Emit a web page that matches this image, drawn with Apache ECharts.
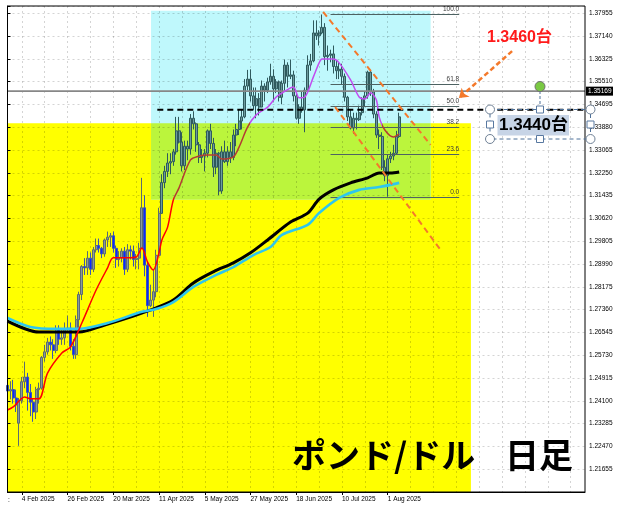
<!DOCTYPE html>
<html>
<head>
<meta charset="utf-8">
<title>ポンド/ドル 日足</title>
<script src="https://cdn.jsdelivr.net/npm/echarts@6/dist/echarts.min.js"></script>
<style>
  html, body { margin: 0; padding: 0; background: #fff; }
  #main { width: 632px; height: 509px; }
</style>
</head>
<body>
<div id="main"></div>
<script>
// trading days on the chart (GBP/USD daily, 2025)
const tradingDays = [
  ['Jan', [28, 29, 30, 31]],
  ['Feb', [3, 4, 5, 6, 7, 10, 11, 12, 13, 14, 17, 18, 19, 20, 21, 24, 25, 26, 27, 28]],
  ['Mar', [3, 4, 5, 6, 7, 10, 11, 12, 13, 14, 17, 18, 19, 20, 21, 24, 25, 26, 27, 28, 31]],
  ['Apr', [1, 2, 3, 4, 7, 8, 9, 10, 11, 14, 15, 16, 17, 18, 21, 22, 23, 24, 25, 28, 29, 30]],
  ['May', [1, 2, 5, 6, 7, 8, 9, 12, 13, 14, 15, 16, 19, 20, 21, 22, 23, 26, 27, 28, 29, 30]],
  ['Jun', [2, 3, 4, 5, 6, 9, 10, 11, 12, 13, 16, 17, 18, 19, 20, 23, 24, 25, 26, 27, 30]],
  ['Jul', [1, 2, 3, 4, 7, 8, 9, 10, 11, 14, 15, 16, 17, 18, 21, 22, 23, 24, 25, 28, 29, 30, 31]],
  ['Aug', [1, 4, 5, 6, 7]]
];
const emptySlots = 65; // blank bars right of the last candle

const tickLabels = ['4 Feb 2025', '26 Feb 2025', '20 Mar 2025', '11 Apr 2025', '5 May 2025',
  '27 May 2025', '18 Jun 2025', '10 Jul 2025', '1 Aug 2025'];
const gridStep = 8; // vertical grid every 8 bars

// price axis: labels 1.21655 ... 1.37955 every 0.00815
const yMin = 1.2084;
const yStep = 0.00815;
const yMax = 1.38213;

// [open, close, low, high]
const ohlc = [
  [1.2465, 1.2445, 1.2405, 1.2480], [1.2445, 1.2450, 1.2415, 1.2480], [1.2450, 1.2420, 1.2400, 1.2485], [1.2420, 1.2395, 1.2370, 1.2450],
  [1.2330, 1.2410, 1.2249, 1.2420], [1.2410, 1.2478, 1.2400, 1.2495], [1.2478, 1.2495, 1.2455, 1.2550], [1.2495, 1.2440, 1.2375, 1.2510],
  [1.2440, 1.2405, 1.2355, 1.2470], [1.2405, 1.2370, 1.2335, 1.2420], [1.2370, 1.2450, 1.2345, 1.2460], [1.2450, 1.2455, 1.2400, 1.2475],
  [1.2455, 1.2565, 1.2450, 1.2570], [1.2565, 1.2585, 1.2550, 1.2610], [1.2585, 1.2620, 1.2575, 1.2635], [1.2620, 1.2610, 1.2590, 1.2640],
  [1.2610, 1.2590, 1.2560, 1.2630], [1.2590, 1.2665, 1.2580, 1.2680], [1.2665, 1.2630, 1.2610, 1.2680], [1.2630, 1.2635, 1.2610, 1.2665],
  [1.2635, 1.2665, 1.2610, 1.2690], [1.2665, 1.2670, 1.2655, 1.2715], [1.2670, 1.2605, 1.2590, 1.2690], [1.2605, 1.2575, 1.2560, 1.2630],
  [1.2575, 1.2700, 1.2560, 1.2715], [1.2700, 1.2790, 1.2670, 1.2800], [1.2790, 1.2890, 1.2770, 1.2895], [1.2890, 1.2885, 1.2860, 1.2920],
  [1.2885, 1.2920, 1.2860, 1.2945], [1.2920, 1.2880, 1.2860, 1.2940], [1.2880, 1.2950, 1.2870, 1.2960], [1.2950, 1.2965, 1.2940, 1.2990],
  [1.2965, 1.2955, 1.2940, 1.2990], [1.2955, 1.2935, 1.2920, 1.2960], [1.2935, 1.2985, 1.2925, 1.2990], [1.2985, 1.2995, 1.2960, 1.3015],
  [1.2995, 1.3000, 1.2960, 1.3010], [1.3000, 1.2955, 1.2940, 1.3015], [1.2955, 1.2915, 1.2885, 1.2965], [1.2915, 1.2920, 1.2890, 1.2945],
  [1.2920, 1.2945, 1.2905, 1.2955], [1.2945, 1.2880, 1.2860, 1.2960], [1.2880, 1.2950, 1.2870, 1.2970], [1.2950, 1.2945, 1.2915, 1.2965],
  [1.2945, 1.2915, 1.2890, 1.2965], [1.2915, 1.2920, 1.2880, 1.2935], [1.2920, 1.2955, 1.2880, 1.2975], [1.2955, 1.3100, 1.2955, 1.3207],
  [1.3100, 1.2895, 1.2855, 1.3145], [1.2895, 1.2750, 1.2710, 1.2905], [1.2750, 1.2770, 1.2745, 1.2825], [1.2770, 1.2800, 1.2710, 1.2880],
  [1.2800, 1.2930, 1.2780, 1.2950], [1.2930, 1.3080, 1.2930, 1.3100], [1.3080, 1.3190, 1.3080, 1.3220], [1.3190, 1.3230, 1.3170, 1.3250],
  [1.3230, 1.3260, 1.3210, 1.3295], [1.3260, 1.3265, 1.3220, 1.3295], [1.3265, 1.3300, 1.3250, 1.3310], [1.3300, 1.3375, 1.3290, 1.3425],
  [1.3375, 1.3335, 1.3330, 1.3425], [1.3335, 1.3250, 1.3230, 1.3370], [1.3250, 1.3320, 1.3235, 1.3340], [1.3320, 1.3310, 1.3270, 1.3340],
  [1.3310, 1.3420, 1.3290, 1.3435], [1.3420, 1.3400, 1.3380, 1.3445], [1.3400, 1.3325, 1.3300, 1.3405], [1.3325, 1.3280, 1.3260, 1.3335],
  [1.3280, 1.3285, 1.3260, 1.3310], [1.3285, 1.3295, 1.3230, 1.3310], [1.3295, 1.3375, 1.3280, 1.3380], [1.3375, 1.3330, 1.3310, 1.3400],
  [1.3330, 1.3245, 1.3210, 1.3350], [1.3245, 1.3295, 1.3220, 1.3310], [1.3295, 1.3160, 1.3145, 1.3300], [1.3160, 1.3300, 1.3150, 1.3320],
  [1.3300, 1.3265, 1.3260, 1.3340], [1.3265, 1.3300, 1.3250, 1.3320], [1.3300, 1.3280, 1.3260, 1.3335], [1.3280, 1.3360, 1.3270, 1.3380],
  [1.3360, 1.3380, 1.3320, 1.3400], [1.3380, 1.3410, 1.3360, 1.3450], [1.3410, 1.3425, 1.3380, 1.3450], [1.3425, 1.3535, 1.3420, 1.3560],
  [1.3535, 1.3560, 1.3520, 1.3593], [1.3560, 1.3500, 1.3480, 1.3595], [1.3500, 1.3465, 1.3450, 1.3530], [1.3465, 1.3490, 1.3420, 1.3530],
  [1.3490, 1.3460, 1.3430, 1.3510], [1.3460, 1.3535, 1.3460, 1.3555], [1.3535, 1.3520, 1.3480, 1.3545], [1.3520, 1.3550, 1.3510, 1.3565],
  [1.3550, 1.3570, 1.3540, 1.3615], [1.3570, 1.3525, 1.3480, 1.3595], [1.3525, 1.3550, 1.3510, 1.3560], [1.3550, 1.3495, 1.3480, 1.3555],
  [1.3495, 1.3545, 1.3470, 1.3555], [1.3545, 1.3610, 1.3520, 1.3630], [1.3610, 1.3570, 1.3530, 1.3620], [1.3570, 1.3575, 1.3560, 1.3630],
  [1.3575, 1.3500, 1.3480, 1.3590], [1.3500, 1.3420, 1.3415, 1.3515], [1.3420, 1.3460, 1.3400, 1.3470], [1.3460, 1.3450, 1.3440, 1.3515],
  [1.3450, 1.3520, 1.3370, 1.3530], [1.3520, 1.3610, 1.3510, 1.3645], [1.3610, 1.3625, 1.3590, 1.3650], [1.3625, 1.3725, 1.3620, 1.3770],
  [1.3725, 1.3715, 1.3700, 1.3770], [1.3715, 1.3725, 1.3680, 1.3735], [1.3725, 1.3745, 1.3720, 1.3791], [1.3745, 1.3640, 1.3610, 1.3760],
  [1.3640, 1.3645, 1.3590, 1.3680], [1.3645, 1.3650, 1.3620, 1.3665], [1.3650, 1.3605, 1.3580, 1.3680], [1.3605, 1.3590, 1.3560, 1.3625],
  [1.3590, 1.3595, 1.3560, 1.3620], [1.3595, 1.3570, 1.3540, 1.3615], [1.3570, 1.3495, 1.3480, 1.3580], [1.3495, 1.3425, 1.3410, 1.3500],
  [1.3425, 1.3385, 1.3380, 1.3450], [1.3385, 1.3420, 1.3365, 1.3440], [1.3420, 1.3415, 1.3380, 1.3440], [1.3415, 1.3440, 1.3410, 1.3465],
  [1.3440, 1.3490, 1.3430, 1.3495], [1.3490, 1.3500, 1.3460, 1.3515], [1.3500, 1.3585, 1.3490, 1.3590], [1.3585, 1.3515, 1.3500, 1.3590],
  [1.3515, 1.3435, 1.3420, 1.3525], [1.3435, 1.3360, 1.3350, 1.3445], [1.3360, 1.3355, 1.3310, 1.3380], [1.3355, 1.3245, 1.3235, 1.3370],
  [1.3245, 1.3215, 1.3195, 1.3270], [1.3215, 1.3275, 1.3140, 1.3290], [1.3275, 1.3285, 1.3260, 1.3300], [1.3285, 1.3295, 1.3270, 1.3325],
  [1.3295, 1.3355, 1.3290, 1.3375], [1.3355, 1.3425, 1.3350, 1.3440]
];

// moving averages: [bar index, price]
const maFast = [[0, 1.2377], [2, 1.2388], [6, 1.2424], [8, 1.2417], [11, 1.2417], [14, 1.2509], [19, 1.2581], [22, 1.2602],
  [26, 1.2688], [31, 1.2806], [35, 1.2885], [37, 1.2921], [42, 1.2921], [45, 1.2924], [47, 1.2956], [49, 1.2906],
  [51, 1.2878], [53, 1.2939], [54, 1.2985], [56, 1.3031], [58, 1.3128], [60, 1.3171], [64, 1.3271], [67, 1.3285],
  [70, 1.3289], [73, 1.3289], [75, 1.3274], [79, 1.3282], [81, 1.3317], [84, 1.3389], [87, 1.3432], [91, 1.3460],
  [94, 1.3496], [96, 1.3510], [100, 1.3532], [102, 1.3493], [104, 1.3496], [107, 1.3568], [109, 1.3618], [110, 1.3632],
  [114, 1.3632], [116, 1.3618], [120, 1.3557], [123, 1.3496], [125, 1.3489], [127, 1.3511], [129, 1.3486], [130, 1.3425],
  [132, 1.3378], [135, 1.3353], [137, 1.3364]];
const maSlowBlack = [[0, 1.2695], [11, 1.2656], [25, 1.2656], [34, 1.2681], [44, 1.2713], [52, 1.2742], [58, 1.2770],
  [65, 1.2831], [72, 1.2871], [79, 1.2903], [85, 1.2939], [91, 1.2985], [99, 1.3049], [105, 1.3081], [109, 1.3131],
  [114, 1.3164], [120, 1.3189], [126, 1.3207], [130, 1.3224], [134, 1.3224], [137, 1.3228]];
const maSlowCyan = [[0, 1.2706], [8, 1.2674], [17, 1.2667], [25, 1.2667], [35, 1.2688], [47, 1.2728], [52, 1.2738],
  [58, 1.2763], [65, 1.2817], [73, 1.2860], [79, 1.2888], [86, 1.2931], [92, 1.2960], [96, 1.3003], [105, 1.3039],
  [109, 1.3081], [116, 1.3135], [123, 1.3164], [130, 1.3174], [137, 1.3189]];

// drawn objects: boxes [fromBar, toBar, lowPrice, highPrice]
const yellowBox = [0, 162.1, yMin, 1.3402];
const cyanBox = [50.2, 148.0, 1.3130, 1.3804];
const fibLevels = [0, 23.6, 38.2, 50.0, 61.8, 100.0];
const fibHigh = 1.3791, fibLow = 1.3140, fibFrom = 113, fibTo = 158;
const priceLine = 1.35169;
const supportLine = [[52.4, 1.3450], [202, 1.3450]];
const channelUpper = [[110.4, 1.3800], [148.0, 1.3325]];
const channelLower = [[114.6, 1.3460], [151.5, 1.2949]];
const arrowLine = [[176.5, 1.3660], [157.9, 1.3492]];

const dates = [];
tradingDays.forEach(function (m) {
  m[1].forEach(function (d) { dates.push(d + ' ' + m[0] + ' 2025'); });
});
const categories = dates.concat(new Array(emptySlots).fill(''));
const lastIndex = categories.length - 1;
const firstTick = dates.indexOf(tickLabels[0]);

// the overlap of the two boxes
const overlapBox = [Math.max(yellowBox[0], cyanBox[0]), Math.min(yellowBox[1], cyanBox[1]),
  Math.max(yellowBox[2], cyanBox[2]), Math.min(yellowBox[3], cyanBox[3])];

function inCyan(k, p) {
  return k >= cyanBox[0] && k <= cyanBox[1] && p >= cyanBox[2] && p <= cyanBox[3];
}

// colour of the short MA depends on the box it passes over
const regionColor = { yellow: '#FF0000', green: '#B33C32', cyan: '#C24CF0' };
function regionOf(k, p) {
  const inYellow = k <= yellowBox[1] && p <= yellowBox[3];
  if (inCyan(k, p)) return inYellow ? 'green' : 'cyan';
  return 'yellow';
}
const fastPieces = [];
let cur = regionOf(maFast[0][0], maFast[0][1]);
let from = null;
for (let i = 1; i < maFast.length; i++) {
  const a = maFast[i - 1], b = maFast[i];
  if (regionOf(b[0], b[1]) !== cur) {
    let lo = 0, hi = 1;
    for (let n = 0; n < 30; n++) {
      const m = (lo + hi) / 2;
      if (regionOf(a[0] + (b[0] - a[0]) * m, a[1] + (b[1] - a[1]) * m) === cur) lo = m; else hi = m;
    }
    const kx = a[0] + (b[0] - a[0]) * hi;
    fastPieces.push(from === null ? { lt: kx, color: regionColor[cur] } : { gte: from, lt: kx, color: regionColor[cur] });
    from = kx;
    cur = regionOf(b[0], b[1]);
  }
}
fastPieces.push(from === null ? { gte: -1, color: regionColor[cur] } : { gte: from, color: regionColor[cur] });

// candles over the cyan box look tinted
const plainCandle = { color: '#8A999C', color0: '#0A28FF', borderColor: '#5C6C70', borderColor0: '#3A55B5' };
const tintCandle = { color: '#6C9B9D', color0: '#1438F5', borderColor: '#2F5A5D', borderColor0: '#2E4F8A' };
const candleData = ohlc.map(function (row, k) {
  const mid = (row[2] + row[3]) / 2;
  return inCyan(k, mid) ? { value: row, itemStyle: tintCandle } : row;
});

function boxItem(fill) {
  return function (params, api) {
    const cs = params.coordSys;
    const a = api.coord([api.value(0), api.value(3)]);
    const b = api.coord([api.value(1), api.value(2)]);
    const x0 = Math.max(a[0], cs.x), x1 = Math.min(b[0], cs.x + cs.width);
    const y0 = Math.max(a[1], cs.y), y1 = Math.min(b[1], cs.y + cs.height);
    return { type: 'rect', silent: true, shape: { x: x0, y: y0, width: x1 - x0, height: y1 - y0 }, style: { fill: fill } };
  };
}

function fibItem(params, api) {
  const lvl = api.value(0);
  const price = fibLow + (fibHigh - fibLow) * lvl / 100;
  const a = api.coord([fibFrom, price]);
  const b = api.coord([fibTo, price]);
  const y = Math.round(a[1]) + 0.5;
  return {
    type: 'group',
    children: [
      { type: 'line', shape: { x1: a[0], y1: y, x2: b[0], y2: y }, style: { stroke: '#4E6262', lineWidth: 1 } },
      { type: 'text', x: b[0], y: y - 1.5,
        style: { text: lvl.toFixed(1), fill: '#3a3a3a', font: '6.5px "Liberation Sans", Arial', align: 'right', verticalAlign: 'bottom' } }
    ]
  };
}

function segment(name, data, color, width, dash, z) {
  return {
    name: name, type: 'line', xAxisIndex: 1, yAxisIndex: 0, data: data, z: z,
    symbol: 'none', silent: true,
    lineStyle: { color: color, width: width, type: dash || 'solid' }
  };
}

const chart = echarts.init(document.getElementById('main'));

const option = {
  animation: false,
  backgroundColor: '#ffffff',
  textStyle: { fontFamily: '"Liberation Sans", Arial, sans-serif' },
  grid: {
    left: 7.5, right: 47, top: 6, bottom: 17,
    show: true, borderColor: '#000', borderWidth: 1, backgroundColor: 'transparent',
    z: 10, containLabel: false, outerBoundsMode: 'none'
  },
  xAxis: [
    {
      type: 'category', data: categories, boundaryGap: false, z: 1.5,
      axisLine: { show: true, lineStyle: { color: '#000', width: 1 } },
      axisTick: {
        show: true, length: 3, lineStyle: { color: '#000' },
        interval: function (i, v) { return tickLabels.indexOf(v) >= 0; }
      },
      axisLabel: {
        show: true, color: '#000', fontSize: 6.5, margin: 4, align: 'left',
        interval: function (i, v) { return tickLabels.indexOf(v) >= 0; }
      },
      splitLine: {
        show: true,
        interval: function (i) { return i >= firstTick && (i - firstTick) % gridStep === 0; },
        lineStyle: { color: 'rgba(0,0,0,0.17)', width: 1, type: [2, 3] }
      }
    },
    { type: 'value', min: 0, max: lastIndex, show: false }
  ],
  yAxis: {
    type: 'value', position: 'right', min: yMin, max: yMax, interval: yStep, z: 1.5,
    axisLine: { show: true, lineStyle: { color: '#000', width: 1 } },
    axisTick: { show: true, length: 3, lineStyle: { color: '#000' } },
    axisLabel: {
      color: '#000', fontSize: 6.5, margin: 4,
      formatter: function (v) { return (v < 1.21 || v > 1.38) ? '' : v.toFixed(5); }
    },
    splitLine: { show: true, lineStyle: { color: 'rgba(0,0,0,0.17)', width: 1, type: [2, 3] } }
  },
  visualMap: [{
    type: 'piecewise', show: false, seriesIndex: 8, dimension: 0, pieces: fastPieces
  }],
  series: [
    { name: 'yellowBox', type: 'custom', xAxisIndex: 1, yAxisIndex: 0, z: 1, silent: true,
      renderItem: boxItem('#FFFF00'), data: [yellowBox] },
    { name: 'cyanBox', type: 'custom', xAxisIndex: 1, yAxisIndex: 0, z: 1.1, silent: true,
      renderItem: boxItem('#BFF8FC'), data: [cyanBox] },
    { name: 'overlapBox', type: 'custom', xAxisIndex: 1, yAxisIndex: 0, z: 1.2, silent: true,
      renderItem: boxItem('#BBF53C'), data: [overlapBox] },
    {
      name: 'GBPUSD', type: 'candlestick', xAxisIndex: 0, yAxisIndex: 0, z: 2,
      data: candleData, barWidth: 2.5,
      itemStyle: Object.assign({ borderWidth: 1 }, plainCandle)
    },
    segment('price', [[0, priceLine], [lastIndex, priceLine]], '#878787', 1.6, 'solid', 2.5),
    { name: 'fibo', type: 'custom', xAxisIndex: 1, yAxisIndex: 0, z: 2.5, clip: true, silent: true,
      renderItem: fibItem, data: fibLevels.map(function (l) { return [l]; }) },
    Object.assign(segment('maBlack', maSlowBlack, '#000000', 3, 'solid', 4), { smooth: 0.3 }),
    Object.assign(segment('maCyan', maSlowCyan, '#2EC6EE', 2.6, 'solid', 4), { smooth: 0.3 }),
    {
      name: 'maFast', type: 'line', xAxisIndex: 1, yAxisIndex: 0, data: maFast, z: 4.5,
      symbol: 'none', smooth: 0.3, silent: true, lineStyle: { width: 1.5 }
    },
    segment('support', supportLine, '#000000', 2, [6, 4], 5),
    segment('channelUpper', channelUpper, '#F4792B', 2, [6, 4], 5),
    segment('channelLower', channelLower, '#F4792B', 2, [6, 4], 5),
    {
      name: 'arrow', type: 'line', xAxisIndex: 1, yAxisIndex: 0, data: [], z: 5,
      markLine: {
        silent: true, symbol: ['none', 'arrow'], symbolSize: 9, label: { show: false },
        lineStyle: { color: '#F4792B', width: 2.5, type: [5, 3] },
        data: [[{ coord: arrowLine[0] }, { coord: arrowLine[1] }]]
      }
    }
  ]
};

chart.setOption(option);

const tagY = chart.convertToPixel({ yAxisIndex: 0 }, priceLine);
const handleLine = '#4D7099';
const corners = [[490, 109.5], [590.5, 109.5], [490, 139], [590.5, 139]];
const squares = [[540, 109.5], [540, 139], [490, 124.5], [590.5, 124.5]];
const titleFont = 'bold 34px "Noto Sans CJK JP"';
const graphics = [
  { type: 'rect', z: 20, shape: { x: 586, y: tagY - 4.5, width: 27, height: 9 }, style: { fill: '#000' } },
  { type: 'text', z: 21, x: 588, y: tagY, style: { text: priceLine.toFixed(5), fill: '#fff', font: '6.5px "Liberation Sans", Arial', verticalAlign: 'middle' } },
  { type: 'text', z: 20, x: 487, y: 38, style: { text: '1.3460台', fill: '#FF1A1A', font: 'bold 16px "Liberation Sans", "Noto Sans CJK JP"', verticalAlign: 'middle' } },
  { type: 'rect', z: 20, shape: { x: 490, y: 109.5, width: 100.5, height: 29.5 }, style: { fill: 'none', stroke: handleLine, lineWidth: 1, lineDash: [4, 3] } },
  { type: 'line', z: 20, shape: { x1: 540, y1: 91, x2: 540, y2: 106 }, style: { stroke: handleLine, lineWidth: 1, lineDash: [3, 2] } },
  { type: 'rect', z: 21, shape: { x: 497.5, y: 115, width: 71.5, height: 20.5 }, style: { fill: '#C7D4E6' } },
  { type: 'text', z: 22, x: 499, y: 125.5, style: { text: '1.3440台', fill: '#000', font: 'bold 17px "Liberation Sans", "Noto Sans CJK JP"', verticalAlign: 'middle' } },
  { type: 'circle', z: 22, shape: { cx: 540, cy: 86.5, r: 5 }, style: { fill: '#7AC943', stroke: '#707070', lineWidth: 1 } },
  { type: 'text', z: 30, x: 292, y: 455, style: { text: 'ポンド/ドル', fill: '#000', font: titleFont, verticalAlign: 'middle' } },
  { type: 'text', z: 30, x: 505, y: 455, style: { text: '日足', fill: '#000', font: titleFont, verticalAlign: 'middle' } },
  { type: 'text', z: 20, x: 8, y: 500, style: { text: ':', fill: '#000', font: '6.5px "Liberation Sans", Arial', verticalAlign: 'middle' } }
];
corners.forEach(function (c) {
  graphics.push({ type: 'circle', z: 22, shape: { cx: c[0], cy: c[1], r: 4.5 }, style: { fill: '#fff', stroke: '#6F8196', lineWidth: 1 } });
});
squares.forEach(function (s) {
  graphics.push({ type: 'rect', z: 22, shape: { x: s[0] - 3.5, y: s[1] - 3.5, width: 7, height: 7 }, style: { fill: '#fff', stroke: '#5878A0', lineWidth: 1 } });
});
chart.setOption({ graphic: graphics });
</script>
</body>
</html>
